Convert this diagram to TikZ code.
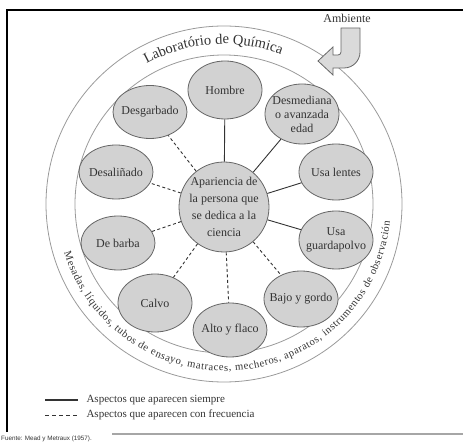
\documentclass[tikz,border=0pt]{standalone}
\usepackage{fontspec}
\setmainfont{Liberation Serif}
\newfontfamily\fuentefont{Liberation Sans}
\usetikzlibrary{shapes.geometric,decorations.text}
\definecolor{nodefill}{HTML}{D2D2D2}
\definecolor{nodeline}{HTML}{666666}
\definecolor{ringline}{HTML}{9A9A9A}
\definecolor{txt}{HTML}{333333}
\definecolor{arrowfill}{HTML}{DADADA}
\begin{document}
\begin{tikzpicture}[x=1pt,y=1pt,
  aspect/.style={ellipse, draw=nodeline, fill=nodefill, line width=0.8pt,
    minimum width=74pt, minimum height=56pt, inner xsep=-8pt, inner ysep=0pt,
    align=center, text=txt, font=\fontsize{12}{14}\selectfont},
  core/.style={circle, draw=nodeline, fill=nodefill, line width=0.8pt,
    minimum size=90pt, inner sep=-1pt, align=center, text=txt,
    font=\fontsize{12}{17}\selectfont},
  always/.style={draw=txt, line width=0.9pt},
  often/.style={draw=txt, line width=0.9pt, dash pattern=on 3pt off 2.5pt},
  ring/.style={draw=ringline, line width=0.8pt},
  legtext/.style={anchor=west, text=txt, font=\fontsize{11}{13}\selectfont},
]
\useasboundingbox (0,0) rectangle (463,442);

% frame
\draw[line width=2pt] (7,10) -- (7,432) -- (463,432);
\draw[draw=black!35, line width=1.5pt] (112,8) -- (463,8);
\node[anchor=west, inner sep=0pt, text=txt, font=\fuentefont\fontsize{6.3}{7}\selectfont] (src) at (1,3.5) {Fuente: Mead y Metraux (1957).};

% rings
\coordinate (ctr) at (224,238);
\draw[ring] (ctr) circle[radius=178];
\draw[ring] (ctr) circle[radius=149];

\path[decorate, decoration={text along path, text align=center,
  text={|\fontsize{14.5}{16}\selectfont\color{txt}|Laboratório de Química}}]
  ([shift={(224,238)}]130:160) arc[start angle=130, end angle=58, radius=160];
\path[decorate, decoration={text along path, text align={fit to path},
  text={|\fontsize{10.6}{12}\selectfont\color{txt}|Mesadas, líquidos, tubos de ensayo, matraces, mecheros, aparatos, instrumentos de observación}}]
  ([shift={(224,238)}]197:167) arc[start angle=197, end angle=354, radius=167];

% Ambiente arrow
\node[text=txt, font=\fontsize{12}{14}\selectfont] (amb) at (347,424) {Ambiente};
\draw[fill=arrowfill, draw=nodeline, line width=0.8pt]
  (341,414) -- (360,414) -- (360,390) arc[start angle=0, end angle=-90, radius=16]
  -- (333,374) -- (333,367) -- (318,381) -- (333,395) -- (333,387) -- (338,387)
  arc[start angle=-90, end angle=0, radius=3] -- cycle;

% nodes
\node[core] (cen) at (224,235) {Apariencia de\\la persona que\\se dedica a la\\ciencia};
\node[aspect, minimum height=58pt] (hom) at (225,352) {Hombre};
\node[aspect, minimum height=53pt] (desg) at (150,330) {Desgarbado};
\node[aspect, minimum height=60pt] (desm) at (302,328) {Desmediana\\o avanzada\\edad};
\node[aspect, minimum height=54pt] (desa) at (116,270) {Desaliñado};
\node[aspect] (len) at (336,270) {Usa lentes};
\node[aspect, minimum height=54pt] (barba) at (118,199) {De barba};
\node[aspect, minimum height=58pt] (guard) at (336,202) {Usa\\guardapolvo};
\node[aspect, minimum height=58pt] (calvo) at (155,139) {Calvo};
\node[aspect] (bajo) at (301,143) {Bajo y gordo};
\node[aspect, minimum height=54pt] (alto) at (230,112) {Alto y flaco};

% connectors
\draw[always] (cen) -- (hom);
\draw[always] (cen) -- (desm);
\draw[always] (cen) -- (len);
\draw[always] (cen) -- (guard);
\draw[often] (cen) -- (desg);
\draw[often] (cen) -- (desa);
\draw[often] (cen) -- (barba);
\draw[often] (cen) -- (calvo);
\draw[often] (cen) -- (alto);
\draw[often] (cen) -- (bajo);

% legend
\coordinate (l1a) at (45,42); \coordinate (l1b) at (78,42);
\coordinate (l2a) at (45,27); \coordinate (l2b) at (78,27);
\draw[always, line width=1.1pt] (l1a) -- (l1b);
\draw[often, dash pattern=on 4pt off 3pt] (l2a) -- (l2b);
\node[legtext] (leg1) at (83,42) {Aspectos que aparecen siempre};
\node[legtext] (leg2) at (83,27) {Aspectos que aparecen con frecuencia};
\end{tikzpicture}
\end{document}
